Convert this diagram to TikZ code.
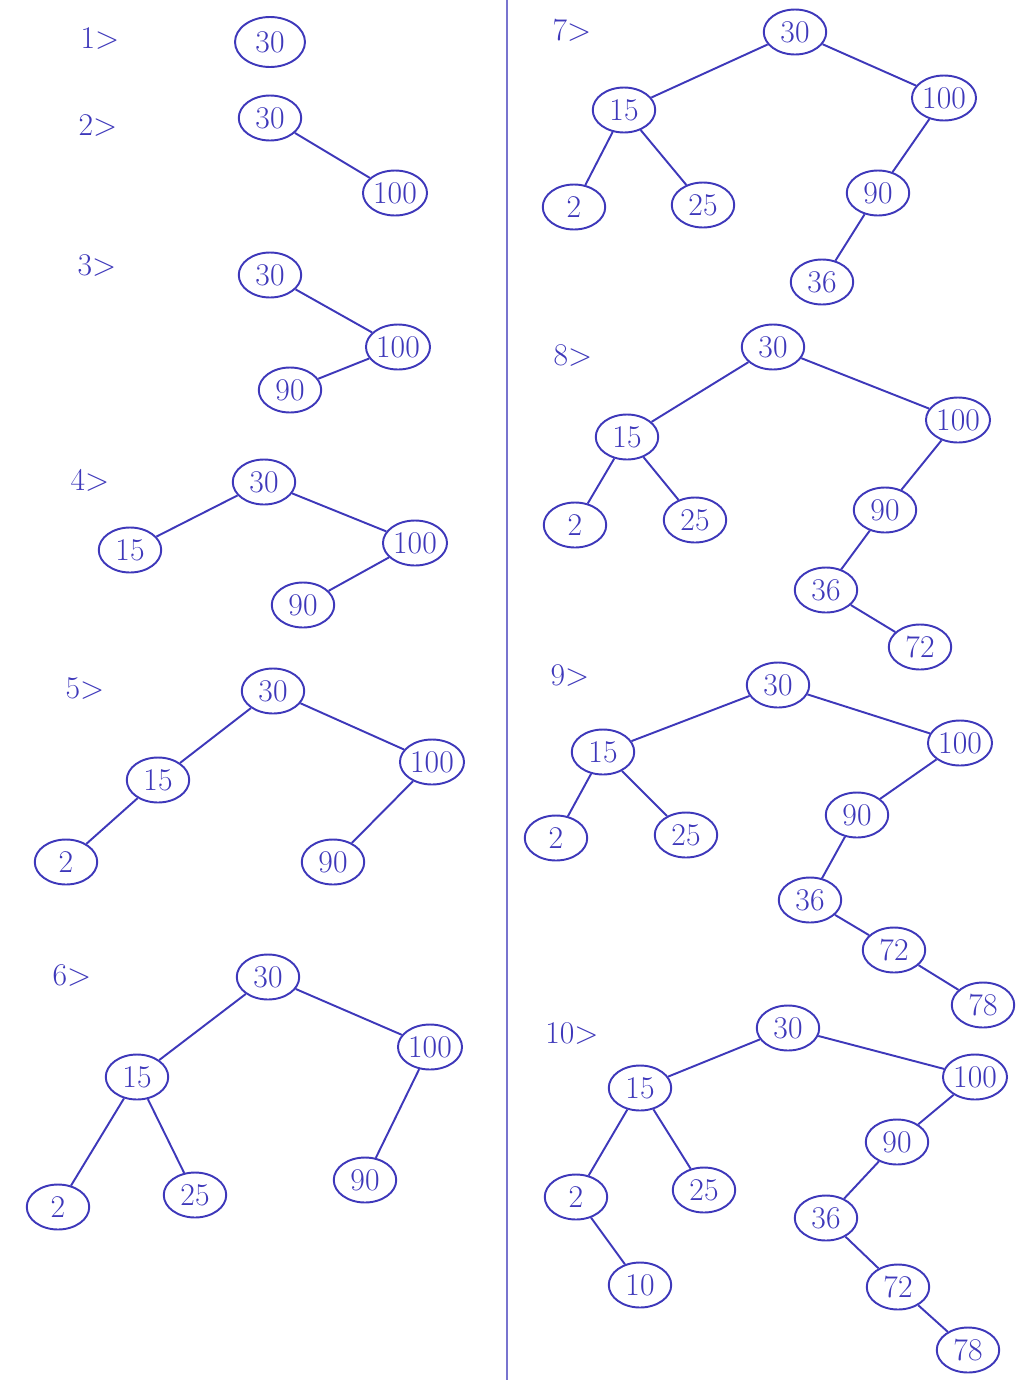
\documentclass[tikz,border=0pt]{standalone}
\usepackage{tikz}
\usetikzlibrary{shapes.geometric}
\definecolor{ink}{RGB}{62,56,186}

\begin{document}
\begin{tikzpicture}[x=0.02cm, y=-0.02cm, ink, line width=1.1pt,
  key/.style={draw, ellipse, inner sep=0.5pt, minimum width=1.25cm, minimum height=0.9cm, font=\fontsize{18}{21}\selectfont},
  stage/.style={font=\fontsize{18}{21}\selectfont}]
\useasboundingbox (0,0) rectangle (1021,1380);
\draw[ink!70, line width=0.8pt] (507,0) -- (507,1380);
% 1
\node[stage] (s1) at (100,38) {1>};
\node[key, minimum width=1.4cm, minimum height=1cm] (a30) at (270,42) {30};
% 2
\node[stage] (s2) at (98,125) {2>};
\node[key] (b30) at (270,118) {30};
\node[key] (b100) at (395,193) {100};
\draw (b30) -- (b100);
% 3
\node[stage] (s3) at (97,265) {3>};
\node[key] (c30) at (270,275) {30};
\node[key] (c100) at (398,347) {100};
\node[key] (c90) at (290,390) {90};
\draw (c30) -- (c100);
\draw (c100) -- (c90);
% 4
\node[stage] (s4) at (90,480) {4>};
\node[key] (d30) at (264,482) {30};
\node[key] (d15) at (130,550) {15};
\node[key] (d100) at (415,543) {100};
\node[key] (d90) at (303,605) {90};
\draw (d30) -- (d15);
\draw (d30) -- (d100);
\draw (d100) -- (d90);
% 5
\node[stage] (s5) at (85,688) {5>};
\node[key] (e30) at (273,691) {30};
\node[key] (e15) at (158,780) {15};
\node[key] (e100) at (432,762) {100};
\node[key] (e2) at (66,862) {2};
\node[key] (e90) at (333,862) {90};
\draw (e30) -- (e15);
\draw (e30) -- (e100);
\draw (e15) -- (e2);
\draw (e100) -- (e90);
% 6
\node[stage] (s6) at (72,975) {6>};
\node[key] (f30) at (268,977) {30};
\node[key] (f15) at (137,1077) {15};
\node[key] (f100) at (430,1047) {100};
\node[key] (f2) at (58,1207) {2};
\node[key] (f25) at (195,1195) {25};
\node[key] (f90) at (365,1180) {90};
\draw (f30) -- (f15);
\draw (f30) -- (f100);
\draw (f15) -- (f2);
\draw (f15) -- (f25);
\draw (f100) -- (f90);
% 7
\node[stage] (s7) at (572,30) {7>};
\node[key] (g30) at (795,32) {30};
\node[key] (g15) at (624,110) {15};
\node[key] (g100) at (944,98) {100};
\node[key] (g2) at (574,207) {2};
\node[key] (g25) at (703,205) {25};
\node[key] (g90) at (878,193) {90};
\node[key] (g36) at (822,282) {36};
\draw (g30) -- (g15);
\draw (g30) -- (g100);
\draw (g15) -- (g2);
\draw (g15) -- (g25);
\draw (g100) -- (g90);
\draw (g90) -- (g36);
% 8
\node[stage] (s8) at (573,355) {8>};
\node[key] (h30) at (773,347) {30};
\node[key] (h15) at (627,437) {15};
\node[key] (h100) at (958,420) {100};
\node[key] (h2) at (575,525) {2};
\node[key] (h25) at (695,520) {25};
\node[key] (h90) at (885,510) {90};
\node[key] (h36) at (826,590) {36};
\node[key] (h72) at (920,647) {72};
\draw (h30) -- (h15);
\draw (h30) -- (h100);
\draw (h15) -- (h2);
\draw (h15) -- (h25);
\draw (h100) -- (h90);
\draw (h90) -- (h36);
\draw (h36) -- (h72);
% 9
\node[stage] (s9) at (570,675) {9>};
\node[key] (i30) at (778,685) {30};
\node[key] (i15) at (603,752) {15};
\node[key] (i100) at (960,743) {100};
\node[key] (i2) at (556,838) {2};
\node[key] (i25) at (686,835) {25};
\node[key] (i90) at (857,815) {90};
\node[key] (i36) at (810,900) {36};
\node[key] (i72) at (894,950) {72};
\node[key] (i78) at (983,1005) {78};
\draw (i30) -- (i15);
\draw (i30) -- (i100);
\draw (i15) -- (i2);
\draw (i15) -- (i25);
\draw (i100) -- (i90);
\draw (i90) -- (i36);
\draw (i36) -- (i72);
\draw (i72) -- (i78);
% 10
\node[stage] (s10) at (572,1033) {10>};
\node[key] (j30) at (788,1028) {30};
\node[key] (j15) at (640,1088) {15};
\node[key] (j100) at (975,1077) {100};
\node[key] (j2) at (576,1197) {2};
\node[key] (j25) at (704,1190) {25};
\node[key] (j10) at (640,1285) {10};
\node[key] (j90) at (897,1142) {90};
\node[key] (j36) at (826,1218) {36};
\node[key] (j72) at (898,1287) {72};
\node[key] (j78) at (968,1350) {78};
\draw (j30) -- (j15);
\draw (j30) -- (j100);
\draw (j15) -- (j2);
\draw (j15) -- (j25);
\draw (j2) -- (j10);
\draw (j100) -- (j90);
\draw (j90) -- (j36);
\draw (j36) -- (j72);
\draw (j72) -- (j78);
\end{tikzpicture}
\end{document}
